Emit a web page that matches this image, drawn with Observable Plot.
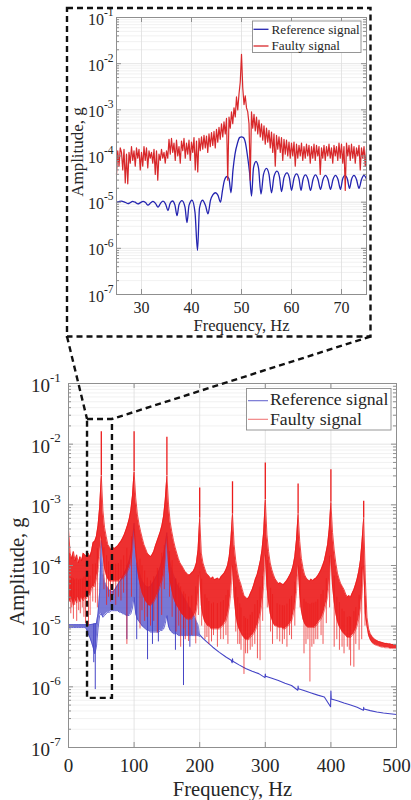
<!DOCTYPE html>
<html>
<head>
<meta charset="utf-8">
<script src="https://cdn.jsdelivr.net/npm/d3@7"></script>
<script src="https://cdn.jsdelivr.net/npm/@observablehq/plot@0.6"></script>
<style>
  html, body { margin: 0; padding: 0; background: #fff; }
  #page { position: relative; width: 411px; height: 800px; overflow: hidden; background: #fff; }
  #page > svg { position: absolute; }
  #page svg text { font-family: "Liberation Serif", "Times New Roman", serif; }
</style>
</head>
<body>
<div id="page"></div>
<script>
// ---------- axes ----------
const freqTicksMain = [0, 100, 200, 300, 400, 500];
const freqTicksZoom = [30, 40, 50, 60, 70];
const ampTicks = [1e-7, 1e-6, 1e-5, 1e-4, 1e-3, 1e-2, 1e-1];
const ampTickExp = ["-7", "-6", "-5", "-4", "-3", "-2", "-1"];
const seriesNames = ["Reference signal", "Faulty signal"];

// ---------- full spectrum, faulty signal (band edges on a 2.5 Hz grid) ----------
const faultyF = [
  0,2.5,5,7.5,10,12.5,15,17.5,20,22.5, 25,27.5,30,32.5,35,37.5,40,42.5,45,47.5,
  50,52.5,55,57.5,60,62.5,65,67.5,70,72.5, 75,77.5,80,82.5,85,87.5,90,92.5,95,97.5,
  100,102.5,105,107.5,110,112.5,115,117.5,120,122.5, 125,127.5,130,132.5,135,137.5,140,142.5,145,147.5,
  150,152.5,155,157.5,160,162.5,165,167.5,170,172.5, 175,177.5,180,182.5,185,187.5,190,192.5,195,197.5,
  200,202.5,205,207.5,210,212.5,215,217.5,220,222.5, 225,227.5,230,232.5,235,237.5,240,242.5,245,247.5,
  250,252.5,255,257.5,260,262.5,265,267.5,270,272.5, 275,277.5,280,282.5,285,287.5,290,292.5,295,297.5,
  300,302.5,305,307.5,310,312.5,315,317.5,320,322.5, 325,327.5,330,332.5,335,337.5,340,342.5,345,347.5,
  350,352.5,355,357.5,360,362.5,365,367.5,370,372.5, 375,377.5,380,382.5,385,387.5,390,392.5,395,397.5,
  400,402.5,405,407.5,410,412.5,415,417.5,420,422.5, 425,427.5,430,432.5,435,437.5,440,442.5,445,447.5,
  450,452.5,455,457.5,460,462.5,465,467.5,470,472.5, 475,477.5,480,482.5,485,487.5,490,492.5,495,497.5,
  500
];
const faultyHi = [
  4e-4,1.6e-4,1.3e-4,1.7e-4,1.2e-4,1.5e-4,1.1e-4,1.4e-4,1.2e-4,1.6e-4,
  1.5e-4,1.4e-4,1.6e-4,1.4e-4,1.7e-4,2.4e-4,2.5e-4,3e-4,4.5e-4,9e-4,
  3e-3,8e-4,4.2e-4,3e-4,2.2e-4,2e-4,1.8e-4,2e-4,1.9e-4,2e-4,
  2.1e-4,2.3e-4,2.5e-4,2.8e-4,3.2e-4,3.8e-4,4.6e-4,5.8e-4,8e-4,1.4e-3,
  3.5e-3,1.3e-3,7e-4,4.8e-4,3.6e-4,2.8e-4,2.2e-4,1.9e-4,1.6e-4,1.5e-4,
  1.4e-4,1.5e-4,1.7e-4,2.1e-4,2.5e-4,3e-4,3.6e-4,4.6e-4,6.5e-4,1.2e-3,
  3e-3,1e-3,5.2e-4,3.6e-4,2.6e-4,2e-4,1.6e-4,1.3e-4,1.1e-4,1e-4,
  9e-5,8e-5,7.5e-5,7e-5,7e-5,7.5e-5,8e-5,9e-5,1.1e-4,1.8e-4,
  6e-4,1.6e-4,1.1e-4,9e-5,7.5e-5,7e-5,6.5e-5,6e-5,6.5e-5,5.8e-5,
  6e-5,6.2e-5,5.8e-5,6.5e-5,7e-5,7.5e-5,8.5e-5,1e-4,1.4e-4,2.6e-4,
  7e-4,2.2e-4,1.2e-4,8e-5,6e-5,5e-5,4e-5,3.2e-5,3e-5,2.8e-5,
  3e-5,3.5e-5,4e-5,4.8e-5,6e-5,7e-5,9e-5,1.2e-4,1.8e-4,3.5e-4,
  1.2e-3,3.2e-4,1.7e-4,1.1e-4,8.5e-5,7e-5,6e-5,5.5e-5,5e-5,5.2e-5,
  5e-5,4.8e-5,5.2e-5,5.6e-5,6.2e-5,7e-5,8e-5,1e-4,1.4e-4,2.6e-4,
  7e-4,2.5e-4,1.3e-4,9e-5,7e-5,6.2e-5,5.8e-5,5.5e-5,6e-5,5.6e-5,
  6e-5,6.2e-5,6.8e-5,7.5e-5,8.5e-5,1e-4,1.2e-4,1.6e-4,2.2e-4,4e-4,
  1.1e-3,3.5e-4,1.8e-4,1.1e-4,7.5e-5,6e-5,5e-5,4.5e-5,4e-5,3.4e-5,
  3e-5,3.2e-5,3e-5,3.5e-5,4e-5,4.8e-5,6e-5,8e-5,1.2e-4,2.5e-4,
  6e-4,6e-5,1.4e-5,9e-6,7.5e-6,6.8e-6,6.3e-6,6e-6,5.8e-6,5.6e-6,
  5.5e-6,5.4e-6,5.3e-6,5.2e-6,5.2e-6,5.1e-6,5.1e-6,5e-6,5e-6,5e-6,
  5e-6
];
const faultyLo = [
  3e-5,2.5e-5,3e-5,2.2e-5,2.8e-5,2.4e-5,3e-5,2.5e-5,3e-5,2.6e-5,
  3e-5,2.8e-5,3.5e-5,3.2e-5,4e-5,4.5e-5,4.5e-5,6e-5,8e-5,1.4e-4,
  3e-4,1.5e-4,9e-5,7e-5,6e-5,5.5e-5,5.5e-5,5.5e-5,5.5e-5,5.5e-5,
  5.5e-5,5.5e-5,6e-5,6e-5,6.5e-5,7e-5,8e-5,9e-5,1.1e-4,1.8e-4,
  4e-4,1.6e-4,9e-5,6e-5,4.5e-5,3.5e-5,3e-5,2.6e-5,2.4e-5,2.2e-5,
  2.2e-5,2.3e-5,2.5e-5,2.8e-5,3.2e-5,3.8e-5,4.5e-5,5.5e-5,7e-5,1.2e-4,
  3e-4,1e-4,5.5e-5,4e-5,3e-5,2.5e-5,2.2e-5,2e-5,1.8e-5,1.6e-5,
  1.5e-5,1.4e-5,1.3e-5,1.3e-5,1.3e-5,1.3e-5,1.4e-5,1.5e-5,1.8e-5,2.6e-5,
  8e-5,2.2e-5,1.5e-5,1.2e-5,1.1e-5,1e-5,1e-5,9e-6,9e-6,9e-6,
  9e-6,9e-6,9e-6,9.5e-6,1e-5,1.1e-5,1.2e-5,1.5e-5,2e-5,3.5e-5,
  1e-4,3e-5,1.6e-5,1.1e-5,9e-6,8e-6,7e-6,6.5e-6,6e-6,6e-6,
  6e-6,6.5e-6,7e-6,7.5e-6,8.5e-6,1e-5,1.2e-5,1.6e-5,2.4e-5,4.5e-5,
  1.5e-4,4.5e-5,2.5e-5,1.6e-5,1.3e-5,1.1e-5,1e-5,1e-5,9.5e-6,9.5e-6,
  9.5e-6,9e-6,9e-6,9.5e-6,1e-5,1.1e-5,1.2e-5,1.5e-5,2e-5,3.5e-5,
  1e-4,3.5e-5,1.8e-5,1.3e-5,1.1e-5,1e-5,9.5e-6,9.5e-6,9.5e-6,9.5e-6,
  9.5e-6,1e-5,1.1e-5,1.2e-5,1.3e-5,1.5e-5,1.8e-5,2.3e-5,3e-5,5e-5,
  1.5e-4,4.5e-5,2.5e-5,1.6e-5,1.2e-5,1e-5,9e-6,8e-6,7.5e-6,7e-6,
  6.5e-6,6.5e-6,6.5e-6,7e-6,7.5e-6,8.5e-6,1e-5,1.3e-5,1.9e-5,3.5e-5,
  1e-4,1.6e-5,1e-5,7e-6,6e-6,5.4e-6,5.1e-6,4.9e-6,4.8e-6,4.7e-6,
  4.6e-6,4.5e-6,4.5e-6,4.4e-6,4.4e-6,4.4e-6,4.3e-6,4.3e-6,4.3e-6,4.3e-6,
  4.3e-6
];
// harmonic peaks of the faulty signal
const harmonicF = [50, 100, 150, 200, 250, 300, 350, 400, 450];
const harmonicA = [1.6e-2, 1.6e-2, 1.3e-2, 1.9e-3, 2.4e-3, 4.9e-3, 2.2e-3, 3.8e-3, 1.15e-3];
// notches reaching below the faulty band
const faultyDipF = [
  3.5,5,7.5,9.5,12.5,15.5,18,21,23.5,26,30.5,33,37,41,44,54,58,61,64,68,72,76,80,84,89,96,
  109,112,116,120,125,130,135.5,142,146,154,158,164,168,171,175.5,178,183,188,194,198,
  203,208,211,214,218,221,227,232,236,240,243,255,258,261,263,267.5,270,273,277,280,284,288,292,296,
  303,308,311,318,322,326,329,333,337,340,345,353,359,362,365,368,371,374,377,380,385,388,393,398,
  405,409,413,417,420,425,428,430,435,438,443,447,452
];
const faultyDipA = [
  1.6e-5,2e-5,1.3e-5,2.2e-5,1.2e-5,1.8e-5,1.6e-5,2e-5,1.4e-5,1.1e-5,1e-5,1.5e-5,2.5e-5,2.4e-5,2e-5,4e-5,2.2e-5,3e-5,2.5e-5,3.2e-5,2.2e-5,3e-5,2.6e-5,3.5e-5,5e-6,3e-5,
  9e-6,1.8e-5,1.2e-5,1.4e-5,1e-5,1.2e-5,7.7e-6,1.5e-5,4e-5,3e-5,1.4e-5,8e-6,1e-5,4.5e-6,9e-6,6e-6,5.6e-6,7e-6,5.1e-6,1.5e-5,
  1e-5,6e-6,6.5e-6,5e-6,5.5e-6,7e-6,4.5e-6,6e-6,6e-6,7e-6,5e-6,8e-6,5e-6,5e-6,4e-6,1.6e-6,3.5e-6,3.5e-6,4e-6,4.5e-6,5e-6,2.9e-6,2.7e-6,1.2e-5,
  2e-5,8e-6,5e-6,6e-6,5.5e-6,5e-6,6e-6,4.5e-6,7e-6,6e-6,1e-5,2e-5,3.5e-6,5e-6,6e-6,1.2e-6,4.5e-6,5e-6,6e-6,6e-6,7e-6,5e-6,1.1e-5,2e-5,
  4.5e-6,6e-6,4e-6,4.5e-6,3.5e-6,4.5e-6,4e-6,2.2e-6,2.1e-6,5e-6,4e-6,6e-6,1e-5
];

// ---------- full spectrum, reference signal ----------
const referenceF = faultyF.slice(0, 81);
const referenceHi = [
  1.06e-5,1.06e-5,1.06e-5,1.06e-5,1.06e-5,1.06e-5,1.06e-5,1.06e-5,1.06e-5,1.06e-5,
  1.06e-5,1.06e-5,1.06e-5,1.06e-5,1.07e-5,1.08e-5,1.1e-5,1.1e-5,1.6e-5,3.6e-5,
  2.6e-4,7.6e-5,5.4e-5,4.7e-5,4.3e-5,3.9e-5,3.8e-5,3.7e-5,3.9e-5,4.3e-5,
  4.8e-5,5.3e-5,5.8e-5,6.5e-5,7.5e-5,8.5e-5,1e-4,1.2e-4,1.6e-4,2.5e-4,
  5e-4,1.8e-4,1.1e-4,8e-5,6.5e-5,5.5e-5,5e-5,4.6e-5,4.4e-5,4.4e-5,
  4.5e-5,5e-5,5.5e-5,6.2e-5,7e-5,8e-5,9.5e-5,1.2e-4,1.5e-4,2.2e-4,
  3.5e-4,1.6e-4,1.1e-4,8.5e-5,7e-5,6e-5,5e-5,4.5e-5,4e-5,3.5e-5,
  3.1e-5,2.8e-5,2.5e-5,2.2e-5,2e-5,1.8e-5,1.6e-5,1.4e-5,1.2e-5,1.05e-5,
  7.2e-6
];
const referenceLo = [
  9.5e-6,9.5e-6,9.5e-6,9.5e-6,9.5e-6,9.5e-6,9.5e-6,9.5e-6,9.5e-6,9.5e-6,
  9.5e-6,9e-6,7.5e-6,6.5e-6,5.5e-6,4.5e-6,3.5e-6,4.5e-6,9e-6,1.5e-5,
  1.6e-5,1.4e-5,1.5e-5,1.6e-5,1.7e-5,1.7e-5,1.8e-5,1.8e-5,1.8e-5,1.8e-5,
  1.8e-5,1.7e-5,1.7e-5,1.6e-5,1.6e-5,1.5e-5,1.5e-5,1.5e-5,1.6e-5,2e-5,
  3e-5,1.6e-5,1.3e-5,1.2e-5,1.1e-5,1e-5,9.5e-6,9e-6,8.5e-6,8.5e-6,
  8e-6,8e-6,8e-6,8e-6,8e-6,8e-6,8.5e-6,8.5e-6,9e-6,1.1e-5,
  1.5e-5,1e-5,8.5e-6,8e-6,7.5e-6,7.5e-6,7.5e-6,7e-6,7e-6,7e-6,
  7e-6,7e-6,7e-6,7e-6,7e-6,7e-6,7e-6,7e-6,7e-6,7e-6,
  6.8e-6
];
const referenceDipF = [38.5, 40.8, 89, 104, 120.5, 128, 137, 163, 175.3, 185];
const referenceDipA = [2.5e-6, 9e-7, 6e-6, 6e-6, 2.8e-6, 5e-6, 5.5e-6, 4e-6, 1.05e-6, 4.5e-6];
// smooth tail above 200 Hz, with small glitches at the harmonics
const referenceTailF = [200,205,210,220,230,240,248,249.5,250,250.5,260,270,280,290,299.5,300,300.5,310,320,330,340,
  349.5,350,350.5,360,370,380,390,399.5,400,400.5,410,420,430,440,449.5,450,450.5,460,470,480,490,500];
const referenceTailA = [7.2e-6,6.3e-6,5.6e-6,4.5e-6,3.7e-6,3.1e-6,2.75e-6,2.5e-6,2.9e-6,2.65e-6,2.3e-6,2e-6,1.8e-6,1.65e-6,1.42e-6,1.62e-6,1.5e-6,1.38e-6,1.27e-6,1.15e-6,1.05e-6,
  8.8e-7,1.03e-6,9.3e-7,8.6e-7,7.9e-7,7.3e-7,6.8e-7,4.7e-7,8.5e-7,6.3e-7,5.9e-7,5.4e-7,5e-7,4.6e-7,4.1e-7,4.6e-7,4.3e-7,4.05e-7,3.85e-7,3.7e-7,3.6e-7,3.5e-7];

// window of the full spectrum that is magnified above
const zoomWindowF = [29, 67];
const zoomWindowA = [6.45e-7, 2.55e-2];

// ---------- magnified view 25–75 Hz ----------
const zoomFaultyF = [
  25,25.25,25.5,25.75,26,26.25,26.5,26.75,27,27.25,27.5,27.75,28,28.25,28.5,28.75,29,29.25,29.5,29.75,
  30,30.25,30.5,30.75,31,31.25,31.5,31.75,32,32.25,32.5,32.75,33,33.25,33.5,33.75,34,34.25,34.5,34.75,
  35,35.25,35.5,35.75,36,36.25,36.5,36.75,37,37.25,37.5,37.75,38,38.25,38.5,38.75,39,39.25,39.5,39.75,
  40,40.25,40.5,40.75,41,41.25,41.5,41.75,42,42.25,42.5,42.75,43,43.25,43.5,43.75,44,44.25,44.5,44.75,
  45,45.25,45.5,45.75,46,46.25,46.5,46.75,47,47.25,47.5,47.75,48,48.25,48.5,48.75,49,49.25,49.5,49.75,
  50,50.25,50.5,50.75,51,51.25,51.5,51.75,52,52.25,52.5,52.75,53,53.25,53.5,53.75,54,54.25,54.5,54.75,
  55,55.25,55.5,55.75,56,56.25,56.5,56.75,57,57.25,57.5,57.75,58,58.25,58.5,58.75,59,59.25,59.5,59.75,
  60,60.25,60.5,60.75,61,61.25,61.5,61.75,62,62.25,62.5,62.75,63,63.25,63.5,63.75,64,64.25,64.5,64.75,
  65,65.25,65.5,65.75,66,66.25,66.5,66.75,67,67.25,67.5,67.75,68,68.25,68.5,68.75,69,69.25,69.5,69.75,
  70,70.25,70.5,70.75,71,71.25,71.5,71.75,72,72.25,72.5,72.75,73,73.25,73.5,73.75,74,74.25,74.5,74.75,
  75
];
const zoomFaultyA = [
  4e-5,1.3e-4,6e-5,1.5e-4,1.2e-4,5e-5,1.4e-4,2.6e-5,1.1e-4,2.5e-5,1.2e-4,7e-5,1.6e-4,8e-5,1.3e-4,6e-5,1.5e-4,9e-5,1.4e-4,5e-5,
  1.2e-4,6e-5,1.6e-4,8e-5,1.5e-4,5.5e-5,1.3e-4,9e-5,1.2e-4,7e-5,1.4e-4,4e-5,1.3e-4,3e-5,1.1e-4,8e-5,1.4e-4,9e-5,1.2e-4,7e-5,
  1.3e-4,9e-5,2.3e-4,1.1e-4,2.4e-4,1.2e-4,1.9e-4,8e-5,2.2e-4,1e-4,1.6e-4,7e-5,2.1e-4,1.3e-4,2.4e-4,9e-5,1.9e-4,1.1e-4,2.2e-4,8e-5,
  2e-4,1.2e-4,2.5e-4,5e-5,2.1e-4,4.5e-5,2.4e-4,1.3e-4,2.6e-4,1.4e-4,2.8e-4,1.5e-4,2.7e-4,1.2e-4,3e-4,1.6e-4,3.2e-4,1.7e-4,3.4e-4,1.5e-4,
  3.8e-4,2e-4,4.2e-4,2.3e-4,5e-4,2.6e-4,5.5e-4,3e-4,6.5e-4,3e-5,7e-4,4e-4,9e-4,5e-4,1.1e-3,7e-4,1.9e-3,1e-3,2.2e-3,4e-3,
  1.6e-2,3e-3,1.3e-3,2e-3,1.1e-3,9e-4,5e-4,3e-5,9e-4,4e-4,8e-4,3.5e-4,7e-4,3e-4,6e-4,2.6e-4,5e-4,2.2e-4,4.5e-4,1.8e-4,
  4e-4,2e-4,3.6e-4,1.5e-4,3.3e-4,1.2e-4,3e-4,6e-5,2.8e-4,1.4e-4,2.6e-4,1.2e-4,2.5e-4,8e-5,2.3e-4,1.1e-4,2.2e-4,1e-4,2e-4,9e-5,
  1.9e-4,1e-4,2e-4,6e-5,1.8e-4,9e-5,1.7e-4,1e-4,1.9e-4,8e-5,1.6e-4,9e-5,1.8e-4,1e-4,1.7e-4,7e-5,1.6e-4,9e-5,1.8e-4,8e-5,
  1.7e-4,1e-4,1.6e-4,4e-5,1.5e-4,9e-5,1.7e-4,8e-5,1.6e-4,1e-4,1.8e-4,9e-5,1.5e-4,7e-5,1.7e-4,1e-4,1.6e-4,8e-5,1.9e-4,9e-5,
  1.8e-4,7e-5,1.6e-4,1.8e-5,1.9e-4,1e-4,1.7e-4,8e-5,1.8e-4,9e-5,1.6e-4,7e-5,1.5e-4,1e-4,1.7e-4,5e-5,1.5e-4,9e-5,1.6e-4,6e-5,
  1.4e-4
];
const zoomReferenceF = [
  25,25.5,26,26.5,27,27.3,27.7,28.2,28.7,29.3,29.8,30.3,30.8,31.3,31.8,32.3,32.8,33.3,33.8,34.3,34.8,35.3,35.7,36.2,36.7,
  37.1,37.5,38.1,38.7,39.1,39.5,40.1,40.7,41.2,41.6,42.2,42.8,43.3,43.8,44.3,44.8,45.3,45.8,46.2,46.6,47.1,47.5,47.9,
  48.3,48.7,49.2,49.6,50,50.4,50.8,51.2,51.6,52,52.4,52.9,53.4,53.9,54.4,55,55.5,56,56.5,57.1,57.6,58,58.5,59.1,59.6,
  60,60.5,61,61.5,61.9,62.3,62.8,63.3,63.8,64.3,64.8,65.3,65.8,66.3,66.8,67.3,67.8,68.3,68.8,69.3,69.8,70.2,70.7,71.2,
  71.6,72,72.5,73,73.5,74,74.5,75
];
const zoomReferenceA = [
  1e-5,1.03e-5,1.05e-5,1.02e-5,9.6e-6,9.3e-6,9.7e-6,1.04e-5,1e-5,9.2e-6,9.8e-6,1.04e-5,9.8e-6,8.6e-6,9.6e-6,1.04e-5,9.4e-6,7.8e-6,9.4e-6,1.05e-5,9.2e-6,6.6e-6,9.2e-6,1.06e-5,8.5e-6,
  5.1e-6,8.8e-6,1.08e-5,7.8e-6,3.6e-6,8.5e-6,1.1e-5,6e-6,9e-7,7.5e-6,1.1e-5,8.5e-6,5.6e-6,1.1e-5,1.45e-5,1.6e-5,1.4e-5,1e-5,1.8e-5,3e-5,3.6e-5,3.2e-5,1.6e-5,
  5e-5,1.1e-4,1.9e-4,2.5e-4,2.6e-4,2.5e-4,1.9e-4,1e-4,4.5e-5,1.35e-5,5.5e-5,7.6e-5,5.5e-5,1.5e-5,4e-5,5.4e-5,4e-5,1.6e-5,3.6e-5,4.7e-5,3.5e-5,1.7e-5,3.4e-5,4.3e-5,3.3e-5,
  1.8e-5,3.3e-5,4.1e-5,3.2e-5,1.8e-5,3.1e-5,3.9e-5,3.1e-5,1.8e-5,3.1e-5,3.9e-5,3.1e-5,1.9e-5,3.1e-5,3.8e-5,3.1e-5,1.9e-5,3.1e-5,3.8e-5,3.1e-5,1.9e-5,3.1e-5,3.8e-5,3.1e-5,
  2e-5,3.1e-5,3.8e-5,3.1e-5,2e-5,3.1e-5,3.8e-5,3.2e-5
];

// ---------- styling ----------
const SERIF = "'Liberation Serif', 'Times New Roman', serif";
const INK = "#262626";
const AXIS = "#8f8f8f";
const GRID = "#dedede";
const GRID_MINOR = "#eeeeee";
const RED = "#ec1a1a";
const BLUE = "#4444c6";
const RED_ZOOM = "#d8282b";
const BLUE_ZOOM = "#2424b0";

const ampMinor = d3.scaleLog().domain([1e-7, 1e-1]).ticks()
  .filter(v => !ampTicks.some(t => Math.abs(v - t) / t < 1e-6));

// grid, inward ticks on all four sides, tick labels with superscript exponents
function gridMarks(xTicks) {
  return [
    Plot.ruleY(ampMinor, {y: d => d, stroke: GRID_MINOR, strokeWidth: 0.8}),
    Plot.ruleY(ampTicks, {y: d => d, stroke: GRID, strokeWidth: 0.8}),
    Plot.ruleX(xTicks, {x: d => d, stroke: GRID, strokeWidth: 0.8})
  ];
}
function axisMarks(o) {
  const {fw, fh, xTicks, tickFont, expFont, mantDx, mantDy, expDy, xLabelDy,
         titleFont, xTitleDy, yTitleFont, yTitleDx, yTitleDy} = o;
  return [
    Plot.tickX(xTicks, {x: d => d, insetTop: fh - 5, stroke: AXIS}),
    Plot.tickX(xTicks, {x: d => d, insetBottom: fh - 5, stroke: AXIS}),
    Plot.tickY(ampTicks, {y: d => d, insetRight: fw - 5, stroke: AXIS}),
    Plot.tickY(ampTicks, {y: d => d, insetLeft: fw - 5, stroke: AXIS}),
    Plot.tickY(ampMinor, {y: d => d, insetRight: fw - 3, stroke: AXIS}),
    Plot.tickY(ampMinor, {y: d => d, insetLeft: fw - 3, stroke: AXIS}),
    Plot.frame({stroke: AXIS, strokeWidth: 1}),
    Plot.text(ampTicks, {y: d => d, text: () => "10", frameAnchor: "left", textAnchor: "end",
      dx: mantDx, dy: mantDy, fontSize: tickFont, fill: INK}),
    Plot.text(ampTicks, {y: d => d, text: (d, i) => ampTickExp[i], frameAnchor: "left", textAnchor: "start",
      dx: mantDx, dy: expDy, fontSize: expFont, fill: INK}),
    Plot.text(xTicks, {x: d => d, text: d => String(d), frameAnchor: "bottom", lineAnchor: "top",
      dy: xLabelDy, fontSize: tickFont, fill: INK}),
    Plot.text(["Frequency, Hz"], {text: d => d, frameAnchor: "bottom", textAnchor: "middle", lineAnchor: "top",
      dy: xTitleDy, fontSize: titleFont, fill: INK}),
    Plot.text(["Amplitude, g"], {text: d => d, frameAnchor: "left", textAnchor: "middle", rotate: -90,
      lineAnchor: "bottom", dx: yTitleDx, dy: yTitleDy, fontSize: yTitleFont, fill: INK})
  ];
}

// ---------- tables ----------
const faultyBand = faultyF.map((f, i) => ({f, hi: faultyHi[i], lo: faultyLo[i]}));
const referenceBand = referenceF.map((f, i) => ({f, hi: referenceHi[i], lo: referenceLo[i]}));
const harmonics = harmonicF.map((f, i) => ({f, peak: harmonicA[i], base: faultyHi[faultyF.indexOf(f)]}));
const faultyDips = faultyDipF.map((f, i) => {
  const j = d3.bisectCenter(faultyF, f);
  return {f, a: faultyDipA[i], top: Math.sqrt(faultyLo[j] * faultyHi[j])};
});
const referenceDips = referenceDipF.map((f, i) => {
  const j = d3.bisectCenter(referenceF, f);
  return {f, a: referenceDipA[i], top: referenceHi[j]};
});
const referenceTail = referenceTailF.map((f, i) => ({f, a: referenceTailA[i]}));
const zoomFaulty = zoomFaultyF.map((f, i) => ({f, a: zoomFaultyA[i]}));
const zoomReference = zoomReferenceF.map((f, i) => ({f, a: zoomReferenceA[i]}));
const zoomWindow = [{x1: zoomWindowF[0], x2: zoomWindowF[1], y1: zoomWindowA[0], y2: zoomWindowA[1]}];

const page = document.getElementById("page");

// ---------- magnified view ----------
const INSET = {left: 66, top: 7, width: 306, height: 330, ml: 50, mr: 6, mt: 10, mb: 43};
const insetPlot = Plot.plot({
  width: INSET.width, height: INSET.height,
  marginLeft: INSET.ml, marginRight: INSET.mr, marginTop: INSET.mt, marginBottom: INSET.mb,
  x: {domain: [25, 75], axis: null},
  y: {type: "log", domain: [1e-7, 1e-1], axis: null},
  style: {fontFamily: SERIF, background: "transparent", overflow: "visible"},
  marks: [
    ...gridMarks(freqTicksZoom),
    Plot.line(zoomReference, {x: "f", y: "a", stroke: BLUE_ZOOM, strokeWidth: 1.3, curve: "monotone-x"}),
    Plot.line(zoomFaulty, {x: "f", y: "a", stroke: RED_ZOOM, strokeWidth: 1.2}),
    ...axisMarks({fw: INSET.width - INSET.ml - INSET.mr, fh: INSET.height - INSET.mt - INSET.mb,
      xTicks: freqTicksZoom, tickFont: 16, expFont: 11.5, mantDx: -12.5, mantDy: 2, expDy: -5.5,
      xLabelDy: 7.5, titleFont: 16.5, xTitleDy: 24.5, yTitleFont: 17, yTitleDx: -33.5, yTitleDy: -4})
  ]
});
insetPlot.style.left = INSET.left + "px";
insetPlot.style.top = INSET.top + "px";
page.appendChild(insetPlot);

// ---------- full spectrum ----------
const MAIN = {left: 0, top: 370, width: 411, height: 430, ml: 68, mr: 15, mt: 13, mb: 53};
const mainPlot = Plot.plot({
  width: MAIN.width, height: MAIN.height,
  marginLeft: MAIN.ml, marginRight: MAIN.mr, marginTop: MAIN.mt, marginBottom: MAIN.mb,
  x: {domain: [0, 500], axis: null},
  y: {type: "log", domain: [1e-7, 1e-1], axis: null},
  style: {fontFamily: SERIF, background: "transparent", overflow: "visible"},
  marks: [
    ...gridMarks(freqTicksMain),
    // reference signal
    Plot.areaY(referenceBand, {x: "f", y1: "lo", y2: "hi", fill: BLUE, fillOpacity: 0.72}),
    Plot.line(referenceBand, {x: "f", y: "hi", stroke: BLUE, strokeWidth: 0.8, strokeOpacity: 0.8}),
    Plot.line(referenceBand, {x: "f", y: "lo", stroke: BLUE, strokeWidth: 0.8}),
    Plot.ruleX(referenceDips, {x: "f", y1: "a", y2: "top", stroke: BLUE, strokeWidth: 1}),
    Plot.line(referenceTail, {x: "f", y: "a", stroke: BLUE, strokeWidth: 1.1}),
    // faulty signal
    Plot.areaY(faultyBand, {x: "f", y1: "lo", y2: "hi", fill: RED, fillOpacity: 0.9}),
    Plot.line(faultyBand, {x: "f", y: "hi", stroke: RED, strokeWidth: 0.8}),
    Plot.line(faultyBand, {x: "f", y: "lo", stroke: RED, strokeWidth: 0.7, strokeOpacity: 0.8}),
    Plot.ruleX(faultyDips, {x: "f", y1: "a", y2: "top", stroke: RED, strokeWidth: 0.9, strokeOpacity: 0.8}),
    Plot.ruleX(harmonics, {x: "f", y1: "base", y2: "peak", stroke: RED, strokeWidth: 1.3}),
    // magnified window
    Plot.rect(zoomWindow, {x1: "x1", x2: "x2", y1: "y1", y2: "y2", fill: "none",
      stroke: "#111", strokeWidth: 2.4, strokeDasharray: "6,4"}),
    ...axisMarks({fw: MAIN.width - MAIN.ml - MAIN.mr, fh: MAIN.height - MAIN.mt - MAIN.mb,
      xTicks: freqTicksMain, tickFont: 19, expFont: 13, mantDx: -18.5, mantDy: 2.5, expDy: -6,
      xLabelDy: 11, titleFont: 20.5, xTitleDy: 33.5, yTitleFont: 20.5, yTitleDx: -44.5, yTitleDy: 6})
  ]
});
mainPlot.style.left = MAIN.left + "px";
mainPlot.style.top = MAIN.top + "px";
page.appendChild(mainPlot);

// ---------- overlay: magnifier frame, connectors, legends ----------
const sx = mainPlot.scale("x"), sy = mainPlot.scale("y");
const win = {
  x1: MAIN.left + sx.apply(zoomWindowF[0]),
  x2: MAIN.left + sx.apply(zoomWindowF[1]),
  yTop: MAIN.top + sy.apply(zoomWindowA[1])
};
const box = {x: 67, y: 8, w: 303.5, h: 328.5};

const overlay = d3.create("svg")
  .attr("width", 411).attr("height", 800)
  .style("left", "0px").style("top", "0px")
  .style("font-family", SERIF);

const dash = {stroke: "#111", "stroke-width": 2.4, "stroke-dasharray": "6,4", fill: "none"};
function applyAttrs(sel, attrs) { for (const k in attrs) sel.attr(k, attrs[k]); return sel; }

applyAttrs(overlay.append("rect").attr("x", box.x).attr("y", box.y).attr("width", box.w).attr("height", box.h), dash);
applyAttrs(overlay.append("line").attr("x1", box.x).attr("y1", box.y + box.h).attr("x2", win.x1).attr("y2", win.yTop), dash);
applyAttrs(overlay.append("line").attr("x1", box.x + box.w).attr("y1", box.y + box.h).attr("x2", win.x2).attr("y2", win.yTop), dash);

function legend(g, o) {
  g.append("rect").attr("x", o.x).attr("y", o.y).attr("width", o.w).attr("height", o.h)
    .attr("fill", "#fff").attr("stroke", "#8c8c8c").attr("stroke-width", 0.9);
  o.rows.forEach((r, i) => {
    g.append("line").attr("x1", o.lx1).attr("x2", o.lx2).attr("y1", r.ly).attr("y2", r.ly)
      .attr("stroke", r.color).attr("stroke-width", o.lw);
    g.append("text").attr("x", o.tx).attr("y", r.ty).attr("font-size", o.fs).attr("fill", INK)
      .text(seriesNames[i]);
  });
}
legend(overlay.append("g"), {
  x: 252.5, y: 21, w: 108.5, h: 31.5, lx1: 253.5, lx2: 268.5, tx: 271.5, fs: 13.2, lw: 1.3,
  rows: [{ly: 29.3, ty: 33.8, color: BLUE_ZOOM}, {ly: 46, ty: 49.5, color: RED_ZOOM}]
});
legend(overlay.append("g"), {
  x: 246.5, y: 388.5, w: 144.5, h: 41.5, lx1: 248, lx2: 268, tx: 270, fs: 17.7, lw: 1.1,
  rows: [{ly: 400.7, ty: 404.8, color: "#6a6ad0"}, {ly: 419.3, ty: 425, color: "#f07a7a"}]
});

page.appendChild(overlay.node());
</script>
</body>
</html>
